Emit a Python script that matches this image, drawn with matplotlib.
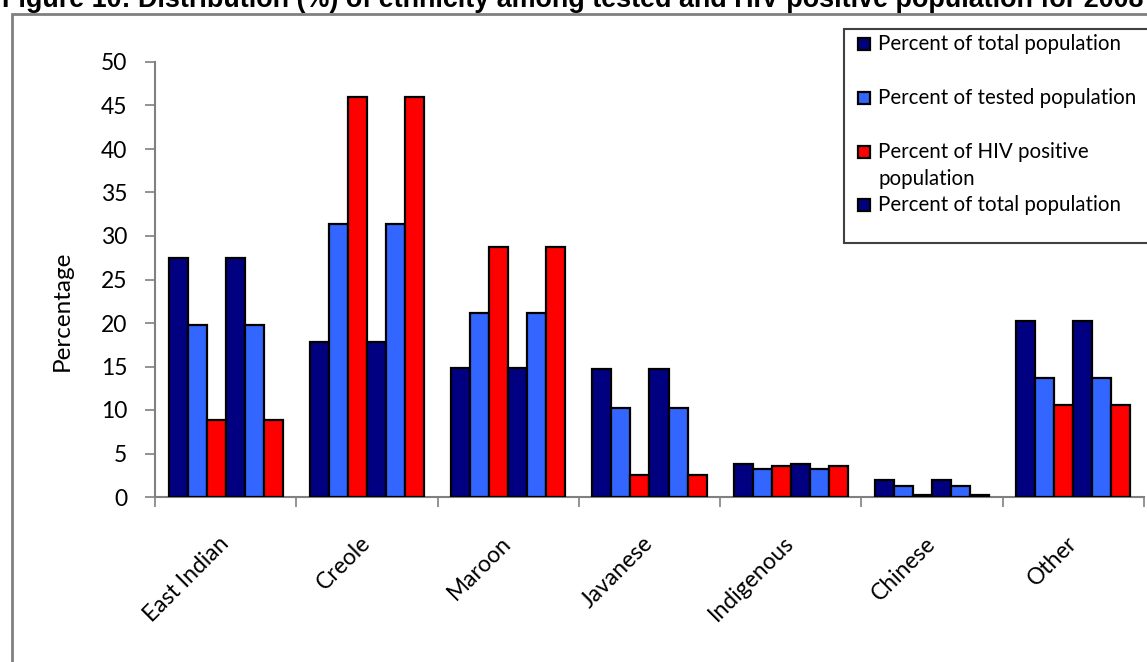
import numpy as np
import matplotlib
matplotlib.use("Agg")
import matplotlib.pyplot as plt
from matplotlib.patches import Rectangle

# Ethnic groups and their share (%) of each population
categories = ["East Indian", "Creole", "Maroon", "Javanese", "Indigenous", "Chinese", "Other"]
pct_total = [27.5, 17.8, 14.8, 14.7, 3.8, 1.9, 20.2]
pct_tested = [19.8, 31.4, 21.1, 10.2, 3.2, 1.3, 13.7]
pct_hiv = [8.9, 46.0, 28.7, 2.5, 3.6, 0.2, 10.6]

legend_labels = [
    "Percent of total population",
    "Percent of tested population",
    "Percent of HIV positive\npopulation",
    "Percent of total population",
]
y_ticks = [0, 5, 10, 15, 20, 25, 30, 35, 40, 45, 50]

NAVY = "#000080"
LIGHT = "#3366FF"
RED = "#FF0000"
GREY = "#808080"

W, H = 1147, 662
fig = plt.figure(figsize=(W / 100, H / 100), dpi=100)
fig.patch.set_facecolor("white")


def fx(px):
    return px / W


def fy(py):
    return 1 - py / H


UI_FONT = ["Lato", "DejaVu Sans"]

# Title, partly cut off by the top edge
fig.text(fx(2), fy(7), "Figure 10: Distribution (%) of ethnicity among tested and HIV positive population for 2008",
         fontsize=19.4, fontweight="bold", family=["Liberation Sans", "DejaVu Sans"],
         ha="left", va="baseline", color="black")

# Outer chart frame
fig.patches.append(Rectangle((fx(12), fy(700)), fx(1200), fy(14) - fy(700),
                             transform=fig.transFigure, fill=False,
                             edgecolor=GREY, linewidth=2, zorder=0))

ax = fig.add_axes([fx(155), fy(497), fx(1144) - fx(155), fy(62) - fy(497)])
ax.set_facecolor("none")

x = np.arange(len(categories))
bw = 0.1345
series = [(pct_total, NAVY), (pct_tested, LIGHT), (pct_hiv, RED),
          (pct_total, NAVY), (pct_tested, LIGHT), (pct_hiv, RED)]
for i, (vals, col) in enumerate(series):
    ax.bar(x + (i - 2.5) * bw, vals, width=bw, color=col,
           edgecolor="black", linewidth=1.6, zorder=3)

ax.set_xlim(-0.5, len(categories) - 0.5)
ax.set_ylim(0, 50)
ax.set_yticks(y_ticks)
ax.set_yticklabels([str(v) for v in y_ticks], family=UI_FONT, fontsize=16.5)
ax.tick_params(axis="y", direction="out", length=7, width=1.2, color=GREY, pad=13)

ax.set_xticks(x)
ax.set_xticklabels(categories, rotation=45, ha="right", va="center",
                   rotation_mode="anchor", family=UI_FONT, fontsize=16.5)
ax.tick_params(axis="x", which="major", length=0, pad=31)
ax.set_xticks(np.arange(-0.5, len(categories)), minor=True)
ax.tick_params(axis="x", which="minor", direction="out", length=7, width=1.2, color=GREY)

for side in ("top", "right"):
    ax.spines[side].set_visible(False)
for side in ("left", "bottom"):
    ax.spines[side].set_color(GREY)
    ax.spines[side].set_linewidth(1.5)

fig.text(fx(62), fy(311), "Percentage", rotation=90, ha="center", va="center",
         family=UI_FONT, fontsize=17.5)

# Legend box
fig.patches.append(Rectangle((fx(844), fy(243)), fx(1200) - fx(844), fy(29) - fy(243),
                             transform=fig.transFigure, facecolor="white",
                             edgecolor="#404040", linewidth=1.5, zorder=5))
legend_colors = [NAVY, LIGHT, RED, NAVY]
swatch_y = [44, 98, 152, 205]
for lab, col, yy in zip(legend_labels, legend_colors, swatch_y):
    fig.patches.append(Rectangle((fx(858), fy(yy + 6)), fx(12), fy(yy - 6) - fy(yy + 6),
                                 transform=fig.transFigure, facecolor=col,
                                 edgecolor="black", linewidth=1.6, zorder=6))
    lines = lab.split("\n")
    fig.text(fx(878), fy(yy), lines[0], ha="left", va="center",
             family=UI_FONT, fontsize=14.8, zorder=7)
    if len(lines) > 1:
        fig.text(fx(878), fy(yy + 27), lines[1], ha="left", va="center",
                 family=UI_FONT, fontsize=14.8, zorder=7)

fig.savefig("out.png", dpi=100)
